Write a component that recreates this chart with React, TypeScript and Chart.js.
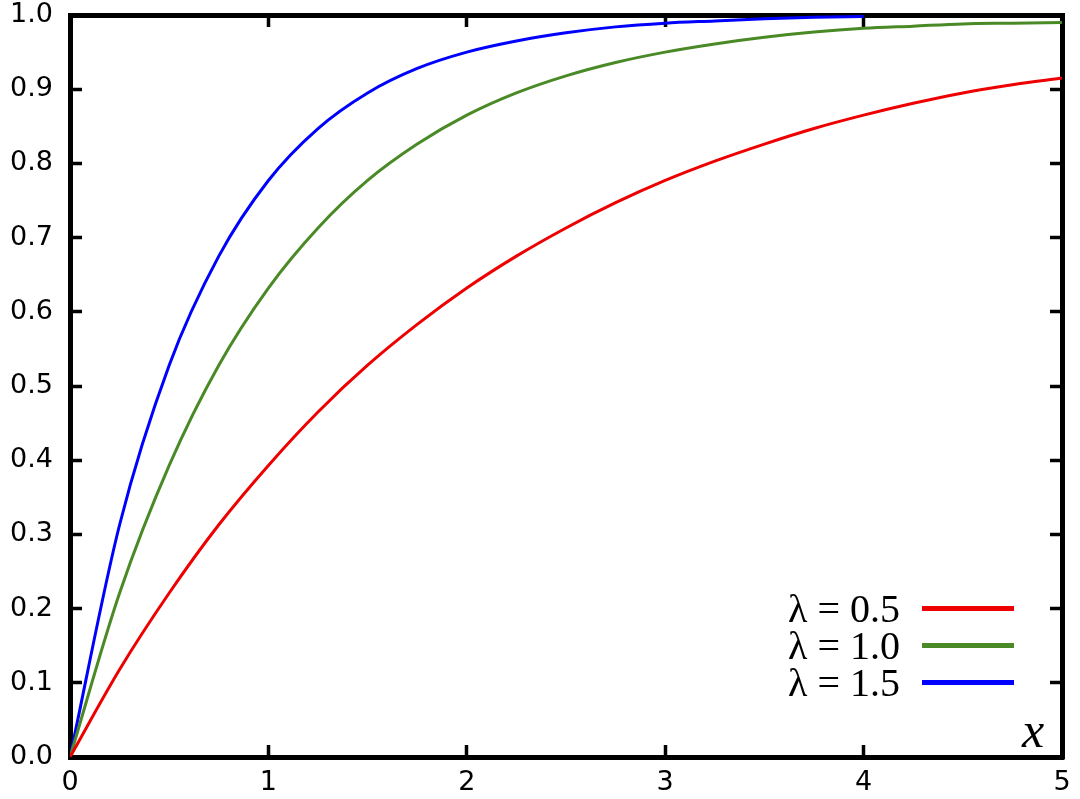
import { useEffect, useRef } from "react"
import { Chart, registerables } from "chart.js"

Chart.register(...registerables)

const xValues = [0, 0.25, 0.5, 0.75, 1, 1.25, 1.5, 1.75, 2, 2.25, 2.5, 2.75, 3, 3.25, 3.5, 3.75, 4, 4.25, 4.5, 4.75, 5]

const lambda05 = [0, 0.118, 0.221, 0.313, 0.393, 0.465, 0.528, 0.583, 0.632, 0.675, 0.713, 0.747, 0.777, 0.803, 0.826, 0.847, 0.865, 0.881, 0.895, 0.906, 0.915]
const lambda10 = [0, 0.221, 0.393, 0.528, 0.632, 0.713, 0.777, 0.826, 0.865, 0.895, 0.918, 0.936, 0.95, 0.961, 0.97, 0.977, 0.982, 0.985, 0.988, 0.989, 0.99]
// blue curve runs into the top frame near x = 4
const lambda15 = [0, 0.313, 0.528, 0.675, 0.777, 0.847, 0.895, 0.928, 0.95, 0.965, 0.976, 0.984, 0.989, 0.992, 0.995, 0.997, 0.998]

const seriesLabels = ["λ = 0.5", "λ = 1.0", "λ = 1.5"]
const seriesColors = ["#ee0000", "#4a8a26", "#0000ff"]
const seriesValues = [lambda05, lambda10, lambda15]

const xTicks = [0, 1, 2, 3, 4, 5]
const yTicks = [0, 0.1, 0.2, 0.3, 0.4, 0.5, 0.6, 0.7, 0.8, 0.9, 1.0]

const frame = { color: "#000", width: 5 }
const inwardTicks = { drawOnChartArea: false, tickLength: -12, tickWidth: 3.5, tickColor: "#000" }

// fix an axis' thickness and drop the label overhang padding chart.js adds
const fixSize = (size: number) => (s: any) => {
  if (s.isHorizontal()) s.height = size
  else s.width = size
  s.paddingTop = 0
  s.paddingBottom = 0
  s.paddingLeft = 0
  s.paddingRight = 0
}

export default function App() {
  const canvasRef = useRef<HTMLCanvasElement>(null)
  const chartRef = useRef<Chart | null>(null)

  useEffect(() => {
    if (!canvasRef.current) return
    if (chartRef.current) chartRef.current.destroy()

    const tickFont = { family: "'DejaVu Sans', sans-serif", size: 27 }

    chartRef.current = new Chart(canvasRef.current, {
      type: "line",
      data: {
        datasets: seriesValues.map((ys, i) => ({
          label: seriesLabels[i],
          data: ys.map((y, j) => ({ x: xValues[j], y })),
          borderColor: seriesColors[i],
          borderWidth: 3,
          pointRadius: 0,
          fill: false,
          cubicInterpolationMode: "monotone" as const,
        })),
      },
      options: {
        animation: false,
        responsive: true,
        maintainAspectRatio: false,
        layout: { autoPadding: false, padding: { top: 15, right: 18, left: 0, bottom: 0 } },
        plugins: { legend: { display: false }, tooltip: { enabled: false } },
        scales: {
          x: {
            type: "linear",
            position: "bottom",
            min: 0,
            max: 5,
            afterBuildTicks: (s: any) => { s.ticks = xTicks.map((v) => ({ value: v })) },
            afterFit: fixSize(42),
            ticks: { color: "#000", font: tickFont, padding: 22, maxRotation: 0, callback: (v: any) => String(v) },
            grid: inwardTicks,
            border: frame,
          },
          x2: {
            type: "linear",
            position: "top",
            min: 0,
            max: 5,
            afterBuildTicks: (s: any) => { s.ticks = xTicks.map((v) => ({ value: v })) },
            afterFit: fixSize(0),
            ticks: { display: false },
            grid: inwardTicks,
            border: frame,
          },
          y: {
            type: "linear",
            position: "left",
            min: 0,
            max: 1,
            afterBuildTicks: (s: any) => { s.ticks = yTicks.map((v) => ({ value: v })) },
            afterFit: fixSize(70),
            ticks: { color: "#000", font: tickFont, padding: 29, callback: (v: any) => Number(v).toFixed(1) },
            grid: inwardTicks,
            border: frame,
          },
          y2: {
            type: "linear",
            position: "right",
            min: 0,
            max: 1,
            afterBuildTicks: (s: any) => { s.ticks = yTicks.map((v) => ({ value: v })) },
            afterFit: fixSize(0),
            ticks: { display: false },
            grid: inwardTicks,
            border: frame,
          },
        },
      },
    })

    return () => {
      if (chartRef.current) {
        chartRef.current.destroy()
        chartRef.current = null
      }
    }
  }, [])

  const serif = "'Liberation Serif', 'Times New Roman', serif"

  return (
    <div style={{ position: "absolute", left: 0, top: 0, width: 1080, height: 799, background: "#fff" }}>
      <canvas ref={canvasRef} />
      {seriesLabels.map((label, i) => (
        <div key={label}>
          <div
            style={{
              position: "absolute",
              right: 180,
              top: 608 + i * 37 - 18.5,
              height: 37,
              lineHeight: "37px",
              fontFamily: serif,
              fontSize: 40,
              color: "#000",
              whiteSpace: "nowrap",
            }}
          >
            {label}
          </div>
          <div
            style={{
              position: "absolute",
              left: 922,
              top: 608 + i * 37 - 2.5,
              width: 92,
              height: 5,
              background: seriesColors[i],
            }}
          />
        </div>
      ))}
      <div
        style={{
          position: "absolute",
          left: 1022,
          top: 705,
          lineHeight: "50px",
          fontFamily: serif,
          fontStyle: "italic",
          fontSize: 50,
          color: "#000",
        }}
      >
        x
      </div>
    </div>
  )
}
